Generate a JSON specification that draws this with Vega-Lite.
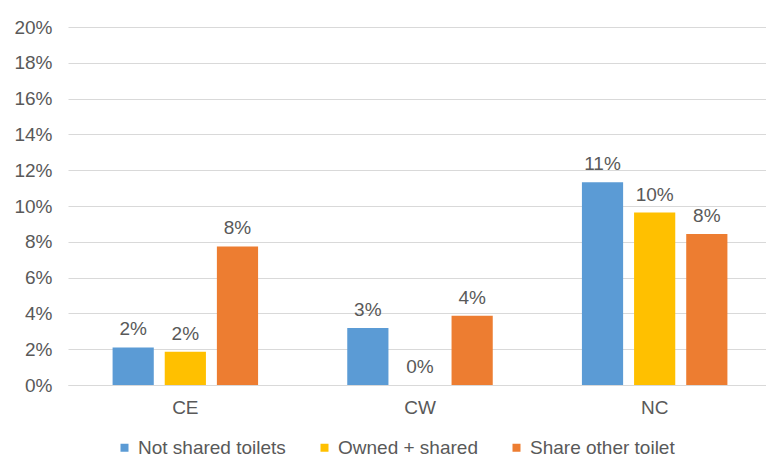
{
  "$schema": "https://vega.github.io/schema/vega-lite/v6.json",
  "autosize": "none",
  "width": 698,
  "height": 358,
  "padding": {"left": 68, "top": 27, "right": 0, "bottom": 73},
  "background": "white",
  "config": {
    "view": {"stroke": null},
    "font": "Liberation Sans",
    "axis": {"labelFont": "Liberation Sans", "labelColor": "#595959", "labelFontSize": 19, "titleFontSize": 0},
    "legend": {"labelFont": "Liberation Sans", "labelColor": "#595959", "labelFontSize": 19}
  },
  "data": {
    "values": [
      {"region": "CE", "type": "Not shared toilets", "value": 0.021},
      {"region": "CE", "type": "Owned + shared", "value": 0.0186},
      {"region": "CE", "type": "Share other toilet", "value": 0.0774},
      {"region": "CW", "type": "Not shared toilets", "value": 0.0318},
      {"region": "CW", "type": "Owned + shared", "value": 0.0},
      {"region": "CW", "type": "Share other toilet", "value": 0.0387},
      {"region": "NC", "type": "Not shared toilets", "value": 0.1132},
      {"region": "NC", "type": "Owned + shared", "value": 0.0963},
      {"region": "NC", "type": "Share other toilet", "value": 0.0844}
    ]
  },
  "encoding": {
    "x": {
      "field": "region", "type": "nominal", "title": null,
      "scale": {"range": [0, 704], "paddingInner": 0.38, "paddingOuter": 0.19},
      "axis": {"labelAngle": 0, "ticks": false, "domain": true, "domainColor": "#D9D9D9", "labelPadding": 13, "grid": false}
    },
    "xOffset": {
      "field": "type", "type": "nominal",
      "scale": {"paddingInner": 0.21, "paddingOuter": 0}
    },
    "y": {
      "field": "value", "type": "quantitative", "title": null,
      "scale": {"domain": [0, 0.2]},
      "axis": {"format": ".0%", "values": [0, 0.02, 0.04, 0.06, 0.08, 0.1, 0.12, 0.14, 0.16, 0.18, 0.2], "domain": false, "ticks": false, "labelPadding": 16, "gridColor": "#D9D9D9", "gridWidth": 1}
    }
  },
  "layer": [
    {
      "mark": {"type": "bar"},
      "encoding": {
        "color": {
          "field": "type", "type": "nominal", "title": null,
          "scale": {"domain": ["Not shared toilets", "Owned + shared", "Share other toilet"], "range": ["#5B9BD5", "#FFC000", "#ED7D31"]},
          "legend": {"orient": "none", "direction": "horizontal", "legendX": 47, "legendY": 411, "symbolType": "square", "symbolSize": 64, "symbolStrokeWidth": 0, "labelOffset": 4, "columnPadding": 29}
        }
      }
    },
    {
      "mark": {"type": "text", "baseline": "bottom", "dy": -8, "fontSize": 19, "color": "#595959", "font": "Liberation Sans"},
      "encoding": {
        "text": {"field": "value", "type": "quantitative", "format": ".0%"}
      }
    }
  ]
}
